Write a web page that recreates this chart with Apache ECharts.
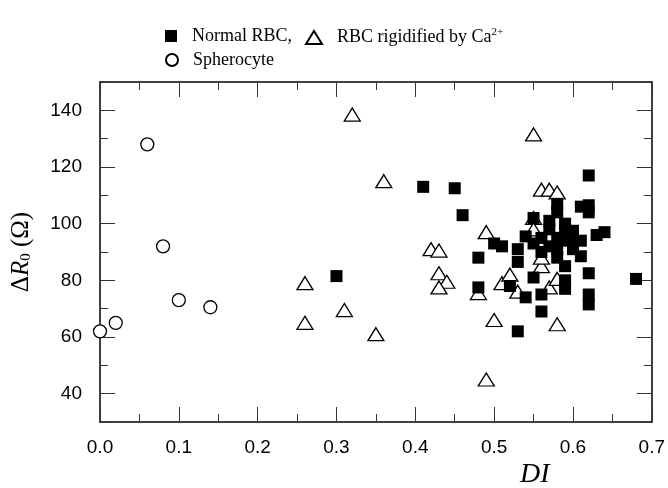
<!DOCTYPE html>
<html>
<head>
<meta charset="utf-8">
<script src="https://cdn.jsdelivr.net/npm/echarts@6/dist/echarts.min.js"></script>
<style>
  html, body { margin: 0; padding: 0; background: #fff; }
  #chart { width: 668px; height: 488px; }
</style>
</head>
<body>
<div id="chart"></div>
<script>
// Spherocyte (open circles)
var sphDI = [0.00, 0.02, 0.06, 0.08, 0.10, 0.14];
var sphR = [62, 65, 128, 92, 73, 70.5];

// RBC rigidified by Ca2+ (open triangles)
var caDI = [0.26, 0.26, 0.31, 0.32, 0.35, 0.36, 0.42, 0.43, 0.43, 0.44, 0.43,
  0.48, 0.49, 0.49, 0.50, 0.51, 0.52, 0.53, 0.55, 0.55, 0.55,
  0.56, 0.57, 0.58, 0.56, 0.56, 0.57, 0.57, 0.58, 0.58];
var caR = [79, 65, 69.5, 138.5, 61, 115, 91, 90.5, 82.5, 79.5, 77.5,
  75.5, 97, 45, 66, 79, 82, 76, 131.5, 102, 98,
  112, 112, 111, 85, 88, 95.5, 77.5, 80.5, 64.5];

// Normal RBC (filled squares)
var normDI = [0.30, 0.41, 0.45, 0.46, 0.48, 0.48, 0.50, 0.51, 0.52, 0.53, 0.53, 0.53,
  0.54, 0.54, 0.55, 0.55, 0.55, 0.56, 0.56, 0.56, 0.56, 0.57, 0.57, 0.57,
  0.58, 0.58, 0.58, 0.58, 0.58, 0.59, 0.59, 0.59, 0.59, 0.59, 0.59,
  0.60, 0.60, 0.60, 0.61, 0.61, 0.61, 0.62, 0.62, 0.62, 0.62, 0.62, 0.62,
  0.63, 0.64, 0.68];
var normR = [81.5, 113, 112.5, 103, 88, 77.5, 93, 92, 78, 62, 86.5, 91,
  74, 95.5, 81, 102, 93, 75, 69, 90, 95, 92, 101, 98,
  107, 104, 95, 91, 88, 80, 77, 85, 98, 94, 100,
  97.5, 91, 94, 94, 88.5, 106, 117, 106.5, 104, 82.5, 75, 71.5,
  96, 97, 80.5];

var yMajor = [40, 60, 80, 100, 120, 140];

function zip(a, b) {
  return a.map(function (v, i) { return [v, b[i]]; });
}

var chartDom = document.getElementById('chart');
var myChart = echarts.init(chartDom);

var serif = 'Liberation Serif';
var sans = 'Liberation Sans';
var tickColor = '#333';

function xAx(pos, labels) {
  return {
    type: 'value', position: pos, min: 0, max: 0.7, interval: 0.1,
    axisLine: { show: true, onZero: false, lineStyle: { color: '#000', width: 1.5 } },
    axisTick: { show: true, inside: true, length: 15, lineStyle: { color: tickColor } },
    minorTick: { show: true, splitNumber: 2, length: 8, lineStyle: { color: tickColor } },
    axisLabel: {
      show: labels, margin: 16, color: '#000', fontFamily: sans, fontSize: 19,
      formatter: function (v) { return v.toFixed(1); }
    },
    splitLine: { show: false }
  };
}

function yAx(pos, major, labels) {
  var o = {
    type: 'value', position: pos, min: 30, max: 150, interval: 10,
    axisLine: { show: major, onZero: false, lineStyle: { color: '#000', width: 1.5 } },
    axisTick: { show: true, inside: true, length: major ? 15 : 8, lineStyle: { color: tickColor } },
    axisLabel: { show: false },
    splitLine: { show: false }
  };
  if (major) {
    o.axisTick.customValues = yMajor;
    o.axisLabel = {
      show: labels, customValues: yMajor, margin: 18, color: '#000',
      fontFamily: sans, fontSize: 19
    };
  }
  return o;
}

var yLeft = yAx('left', true, true);
yLeft.name = '{d|Δ}{r|R}{s|0}{p| (Ω)}';
yLeft.nameLocation = 'middle';
yLeft.nameRotate = 90;
yLeft.nameGap = 66;
yLeft.nameTextStyle = {
  color: '#000', fontFamily: serif,
  rich: {
    d: { fontFamily: serif, fontSize: 25, color: '#000' },
    r: { fontFamily: serif, fontSize: 25, fontStyle: 'italic', color: '#000' },
    s: { fontFamily: serif, fontSize: 15, color: '#000', verticalAlign: 'bottom', padding: [10, 0, 0, 0] },
    p: { fontFamily: serif, fontSize: 25, color: '#000' }
  }
};

var legendText = {
  color: '#000', fontFamily: serif, fontSize: 18,
  rich: {
    g: { width: 10 },
    t: { fontFamily: serif, fontSize: 18, color: '#000' },
    u: { fontFamily: serif, fontSize: 11, color: '#000', verticalAlign: 'top', padding: [0, 0, 10, 0] }
  }
};

option = {
  animation: false,
  grid: { left: 100, right: 13, top: 82, bottom: 66 },
  legend: [
    {
      left: 160, top: 22, itemWidth: 12, itemHeight: 12, selectedMode: false,
      data: [{ name: 'Normal RBC', icon: 'rect' }],
      textStyle: legendText,
      formatter: function () { return '{g|}{t|Normal RBC,}'; }
    },
    {
      left: 300, top: 22, itemWidth: 16, itemHeight: 13, selectedMode: false,
      data: [{ name: 'RBC rigidified by Ca2+', icon: 'triangle' }],
      textStyle: legendText,
      formatter: function () { return '{g|}{t|RBC rigidified by Ca}{u|2+}'; }
    },
    {
      left: 160, top: 46, itemWidth: 12, itemHeight: 12, selectedMode: false,
      data: [{ name: 'Spherocyte', icon: 'circle' }],
      textStyle: legendText,
      formatter: function () { return '{g|}{t|Spherocyte}'; }
    }
  ],
  xAxis: [xAx('bottom', true), xAx('top', false)],
  yAxis: [yLeft, yAx('left', false, false), yAx('right', true, false), yAx('right', false, false)],
  graphic: [
    {
      type: 'text', left: 520, top: 461,
      style: { text: 'DI', fontFamily: serif, fontSize: 28, fontStyle: 'italic', fill: '#000' }
    }
  ],
  series: [
    {
      name: 'RBC rigidified by Ca2+', type: 'scatter', symbol: 'triangle', symbolSize: [16, 13],
      itemStyle: { color: '#fff', borderColor: '#000', borderWidth: 1.3, opacity: 1 },
      data: zip(caDI, caR)
    },
    {
      name: 'Normal RBC', type: 'scatter', symbol: 'rect', symbolSize: 12,
      itemStyle: { color: '#000', opacity: 1 },
      data: zip(normDI, normR)
    },
    {
      name: 'Spherocyte', type: 'scatter', symbol: 'circle', symbolSize: 13,
      itemStyle: { color: '#fff', borderColor: '#000', borderWidth: 1.3, opacity: 1 },
      data: zip(sphDI, sphR)
    }
  ]
};

option && myChart.setOption(option);
</script>
</body>
</html>
